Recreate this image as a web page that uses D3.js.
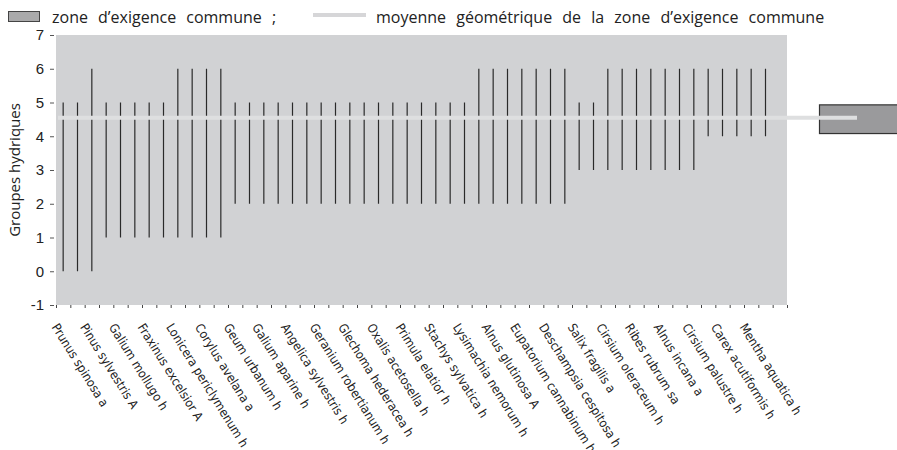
<!DOCTYPE html>
<meta charset="utf-8">
<script src="https://cdn.jsdelivr.net/npm/d3@7"></script>
<style>
  body { margin: 0; background: #fff; }
  svg text { fill: #222; }
</style>
<div id="chart"></div>
<script>
  // espèces nommées (une sur deux, comme sur l'axe d'origine)
  const speciesLabels = [
    "Prunus spinosa a", "Pinus sylvestris A", "Galium mollugo h", "Fraxinus excelsior A",
    "Lonicera periclymenum h", "Corylus avelana a", "Geum urbanum h", "Galium aparine h",
    "Angelica sylvestris h", "Geranium robertianum h", "Glechoma hederacea h", "Oxalis acetosella h",
    "Primula elatior h", "Stachys sylvatica h", "Lysimachia nemorum h", "Alnus glutinosa A",
    "Eupatorium cannabinum h", "Deschampsia cespitosa h", "Salix fragilis a", "Cirsium oleraceum h",
    "Ribes rubrum sa", "Alnus incana a", "Cirsium palustre h", "Carex acutiformis h",
    "Mentha aquatica h"
  ]
  // groupe hydrique mini / maxi de chaque espèce (50 espèces)
  const lowValues = [
    0, 0, 0, 1, 1, 1, 1, 1, 1, 1,
    1, 1, 2, 2, 2, 2, 2, 2, 2, 2,
    2, 2, 2, 2, 2, 2, 2, 2, 2, 2,
    2, 2, 2, 2, 2, 2, 3, 3, 3, 3,
    3, 3, 3, 3, 3, 4, 4, 4, 4, 4
  ]
  const highValues = [
    5, 5, 6, 5, 5, 5, 5, 5, 6, 6,
    6, 6, 5, 5, 5, 5, 5, 5, 5, 5,
    5, 5, 5, 5, 5, 5, 5, 5, 5, 6,
    6, 6, 6, 6, 6, 6, 5, 5, 6, 6,
    6, 6, 6, 6, 6, 6, 6, 6, 6, 6
  ]
  const yTicks = [-1, 0, 1, 2, 3, 4, 5, 6, 7]
  const geoMean = 4.55
  const commonZone = [4.08, 4.93]
  const legendItems = ["zone d\u2019exigence commune ;", "moyenne géométrique de la zone d\u2019exigence commune"]

  const width = 897, height = 450
  const plot = { left: 56, right: 787, top: 35, bottom: 305 }
  const nSlots = lowValues.length + 1

  const svg = d3.select("#chart").append("svg")
    .attr("width", width)
    .attr("height", height)
    .style("font-family", "'Open Sans', sans-serif")

  const x = d3.scaleBand().domain(d3.range(nSlots)).range([plot.left, plot.right])
  const xEdge = d3.scaleLinear().domain([0, nSlots]).range([plot.left, plot.right])
  const y = d3.scaleLinear().domain([-1, 7]).range([plot.bottom, plot.top])

  // fond de la zone de tracé
  svg.append("rect")
    .attr("x", plot.left).attr("y", plot.top)
    .attr("width", plot.right - plot.left).attr("height", plot.bottom - plot.top)
    .attr("fill", "#d1d2d4")

  // axe Y
  const yAxis = svg.append("g")
    .attr("transform", `translate(${plot.left - 2},0)`)
    .call(d3.axisLeft(y).tickValues(yTicks).tickSize(4).tickPadding(6).tickFormat(d => String(d)))
  yAxis.select(".domain").remove()
  yAxis.selectAll(".tick line").attr("stroke", "#555")
  yAxis.selectAll(".tick text").style("font-size", "15px").attr("fill", "#222")

  svg.append("text")
    .attr("transform", `translate(20,${(plot.top + plot.bottom) / 2}) rotate(-90)`)
    .attr("text-anchor", "middle")
    .style("font-size", "15px")
    .text("Groupes hydriques")

  // graduations de l'axe X
  const xAxis = svg.append("g")
    .attr("transform", `translate(0,${plot.bottom})`)
    .call(d3.axisBottom(xEdge).tickValues(d3.range(nSlots + 1)).tickSize(3).tickFormat(""))
  xAxis.select(".domain").remove()
  xAxis.selectAll(".tick line").attr("stroke", "#444")

  // étiquettes des espèces
  svg.append("g").selectAll("text")
    .data(speciesLabels)
    .join("text")
    .attr("transform", (d, i) => `translate(${x(i * 2) + x.bandwidth() / 2 - 12},${plot.bottom + 22}) rotate(58)`)
    .style("font-family", "'DejaVu Sans Condensed', sans-serif")
    .style("font-size", "12.5px")
    .text(d => d)

  // amplitudes
  svg.append("g").selectAll("line")
    .data(lowValues)
    .join("line")
    .attr("x1", (d, i) => x(i) + x.bandwidth() / 2)
    .attr("x2", (d, i) => x(i) + x.bandwidth() / 2)
    .attr("y1", d => y(d))
    .attr("y2", (d, i) => y(highValues[i]))
    .attr("stroke", "#2a2a2a")
    .attr("stroke-width", 1.2)

  // zone d'exigence commune (hors zone de tracé)
  svg.append("rect")
    .attr("x", 819.5)
    .attr("y", y(commonZone[1]))
    .attr("width", 90)
    .attr("height", y(commonZone[0]) - y(commonZone[1]))
    .attr("fill", "#9a9a9c")
    .attr("stroke", "#333")
    .attr("stroke-width", 1.2)

  // moyenne géométrique
  svg.append("line")
    .attr("x1", plot.left + 2).attr("x2", 857)
    .attr("y1", y(geoMean)).attr("y2", y(geoMean))
    .attr("stroke", "#dedfe0")
    .attr("stroke-width", 4)

  // légende
  svg.append("rect")
    .attr("x", 8.5).attr("y", 11.5).attr("width", 31).attr("height", 10)
    .attr("fill", "#aaaaab").attr("stroke", "#444")
  svg.append("text")
    .attr("x", 52).attr("y", 23)
    .style("font-size", "16px")
    .style("word-spacing", "6px")
    .text(legendItems[0])
  svg.append("rect")
    .attr("x", 313).attr("y", 13).attr("width", 53).attr("height", 4)
    .attr("fill", "#d6d6d8")
  svg.append("text")
    .attr("x", 376).attr("y", 23)
    .style("font-size", "16px")
    .style("word-spacing", "6px")
    .text(legendItems[1])
</script>
